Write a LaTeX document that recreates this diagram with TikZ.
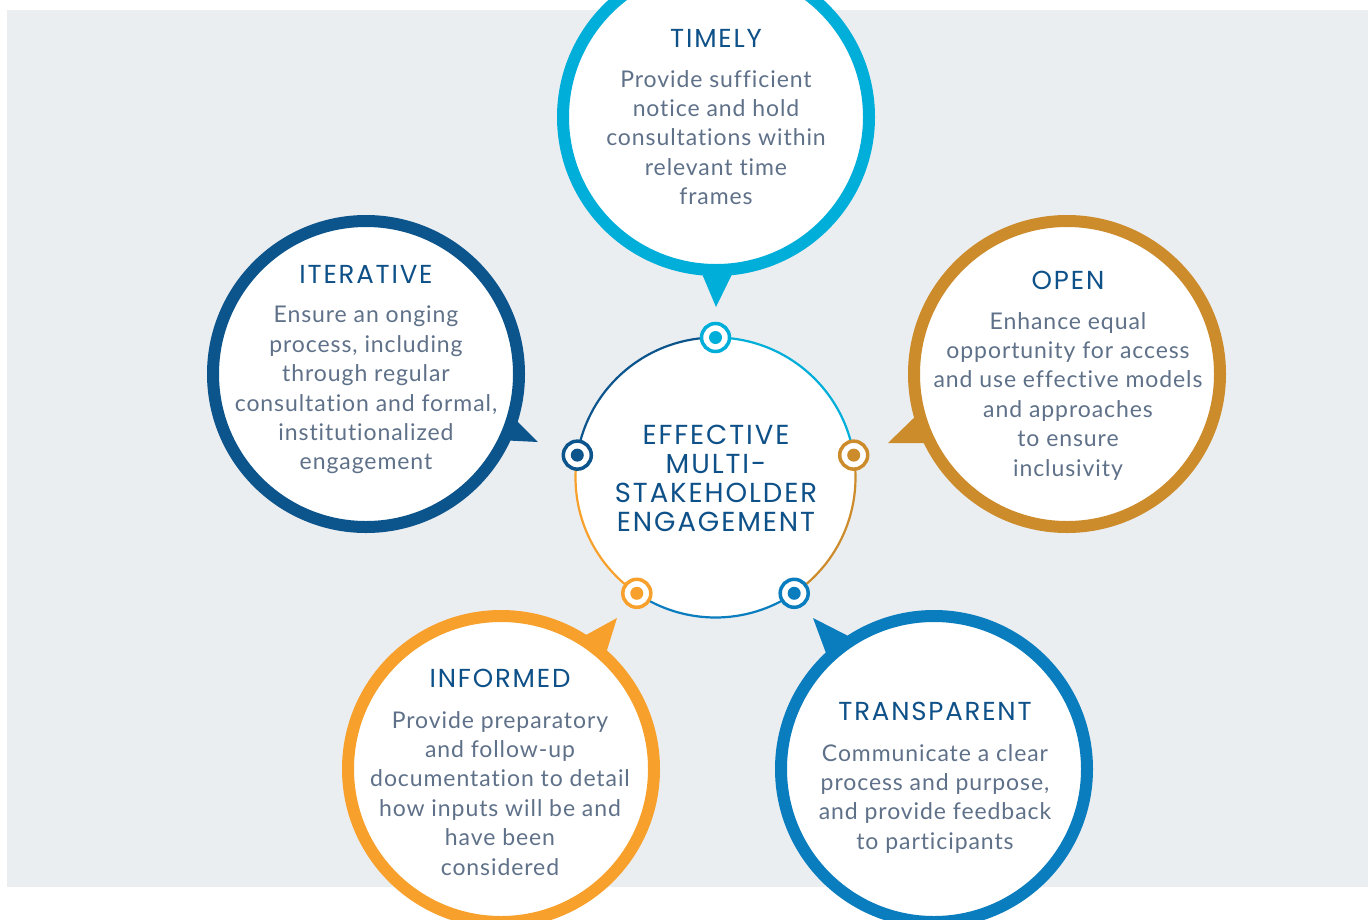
\documentclass[tikz,border=0pt]{standalone}
\usepackage{fontspec}
\usetikzlibrary{calc}
\newfontfamily\headfont[LetterSpace=7]{Poppins}
\newfontfamily\bodyfont[LetterSpace=4,Ligatures=NoCommon]{Lato}
\definecolor{bggray}{HTML}{EBEEF1}
\definecolor{cyanC}{HTML}{00AEDA}
\definecolor{navyC}{HTML}{0C548C}
\definecolor{goldC}{HTML}{CD8C2C}
\definecolor{orangeC}{HTML}{F7A02B}
\definecolor{blueC}{HTML}{0A7DBF}
\definecolor{headC}{HTML}{0E5088}
\definecolor{bodyC}{HTML}{5F7189}
\tikzset{
  bubble/.style={circle, inner sep=0pt, minimum size=306pt, fill=white, draw=#1, line width=12pt},
  pointer/.style={fill=#1},
  headtext/.style={anchor=base, inner sep=0pt, text=headC, font={\headfont\fontsize{26}{30}\selectfont}},
  bodytext/.style={anchor=north, inner sep=0pt, align=center, text=bodyC, font={\bodyfont\fontsize{23}{29.4}\selectfont}},
  coretext/.style={anchor=north, inner sep=0pt, align=center, text=headC, font={\headfont\fontsize{27.5}{29}\selectfont}},
  arcline/.style={draw=#1, line width=2.2pt},
  dotring/.style={circle, inner sep=0pt, minimum size=28pt, fill=white, draw=#1, line width=3.5pt},
  dotcore/.style={fill=#1}
}
\begin{document}
\begin{tikzpicture}[x=1pt,y=-1pt]
\useasboundingbox (0,0) rectangle (1368,919);
\clip (0,0) rectangle (1368,919);
\fill[bggray] (7,10) rectangle (1368,887);

% pointers
\coordinate (tTip) at (716,307);
\coordinate (iTip) at (538,442);
\coordinate (oTip) at (888,443);
\coordinate (fTip) at (617,618);
\coordinate (pTip) at (813,618);
\fill[pointer=cyanC] (tTip) -- (697,262) -- (738,262) -- cycle;
\fill[pointer=navyC] (iTip) -- (510,414) -- (498,440) -- cycle;
\fill[pointer=goldC] (oTip) -- (922,410) -- (935,443) -- cycle;
\fill[pointer=orangeC] (fTip) -- (575,641) -- (603,663) -- cycle;
\fill[pointer=blueC] (pTip) -- (858,641) -- (830,664) -- cycle;

% bubbles
\node[bubble=cyanC] (timely) at (716,117) {};
\node[bubble=navyC] (iterative) at (366,374) {};
\node[bubble=goldC] (open) at (1067,374) {};
\node[bubble=orangeC] (informed) at (501,769) {};
\node[bubble=blueC] (transparent) at (934,769) {};

% texts
\node[headtext] (timelyH) at (716,47) {TIMELY};
\node[bodytext] (timelyB) at (716,70) {Provide sufficient\\notice and hold\\consultations within\\relevant time\\frames};
\node[headtext] (iterativeH) at (366,283) {ITERATIVE};
\node[bodytext] (iterativeB) at (366,306) {Ensure an onging\\process, including\\through regular\\consultation and formal,\\institutionalized\\engagement};
\node[headtext] (openH) at (1068,289) {OPEN};
\node[bodytext] (openB) at (1068,312) {Enhance equal\\opportunity for access\\and use effective models\\and approaches\\to ensure\\inclusivity};
\node[headtext] (informedH) at (500,687) {INFORMED};
\node[bodytext] (informedB) at (500,711) {Provide preparatory\\and follow-up\\documentation to detail\\how inputs will be and\\have been\\considered};
\node[headtext] (transparentH) at (935,720) {TRANSPARENT};
\node[bodytext] (transparentB) at (935,744) {Communicate a clear\\process and purpose,\\and provide feedback\\to participants};

% core
\node[circle, inner sep=0pt, minimum size=280pt, fill=white] (core) at (715.5,477.5) {};
\coordinate (dTop) at ($(core.center)+(90:140pt)$);
\coordinate (dLeft) at ($(core.center)+(170.8:140pt)$);
\coordinate (dBL) at ($(core.center)+(235.8:140pt)$);
\coordinate (dBR) at ($(core.center)+(304.2:140pt)$);
\coordinate (dRight) at ($(core.center)+(9.2:140pt)$);
\draw[arcline=navyC] (dTop) arc[start angle=90, end angle=170.8, radius=140pt];
\draw[arcline=orangeC] (dLeft) arc[start angle=170.8, end angle=235.8, radius=140pt];
\draw[arcline=blueC] (dBL) arc[start angle=235.8, end angle=304.2, radius=140pt];
\draw[arcline=goldC] (dBR) arc[start angle=304.2, end angle=369.2, radius=140pt];
\draw[arcline=cyanC] (dRight) arc[start angle=9.2, end angle=90, radius=140pt];

\node[dotring=cyanC] (nTop) at (dTop) {};
\node[dotring=navyC] (nLeft) at (dLeft) {};
\node[dotring=orangeC] (nBL) at (dBL) {};
\node[dotring=blueC] (nBR) at (dBR) {};
\node[dotring=goldC] (nRight) at (dRight) {};
\fill[dotcore=cyanC] (nTop.center) circle[radius=6.5pt];
\fill[dotcore=navyC] (nLeft.center) circle[radius=6.5pt];
\fill[dotcore=orangeC] (nBL.center) circle[radius=6.5pt];
\fill[dotcore=blueC] (nBR.center) circle[radius=6.5pt];
\fill[dotcore=goldC] (nRight.center) circle[radius=6.5pt];

\node[coretext] (coreT) at (716,425) {EFFECTIVE\\MULTI-\\STAKEHOLDER\\ENGAGEMENT};
\end{tikzpicture}
\end{document}
